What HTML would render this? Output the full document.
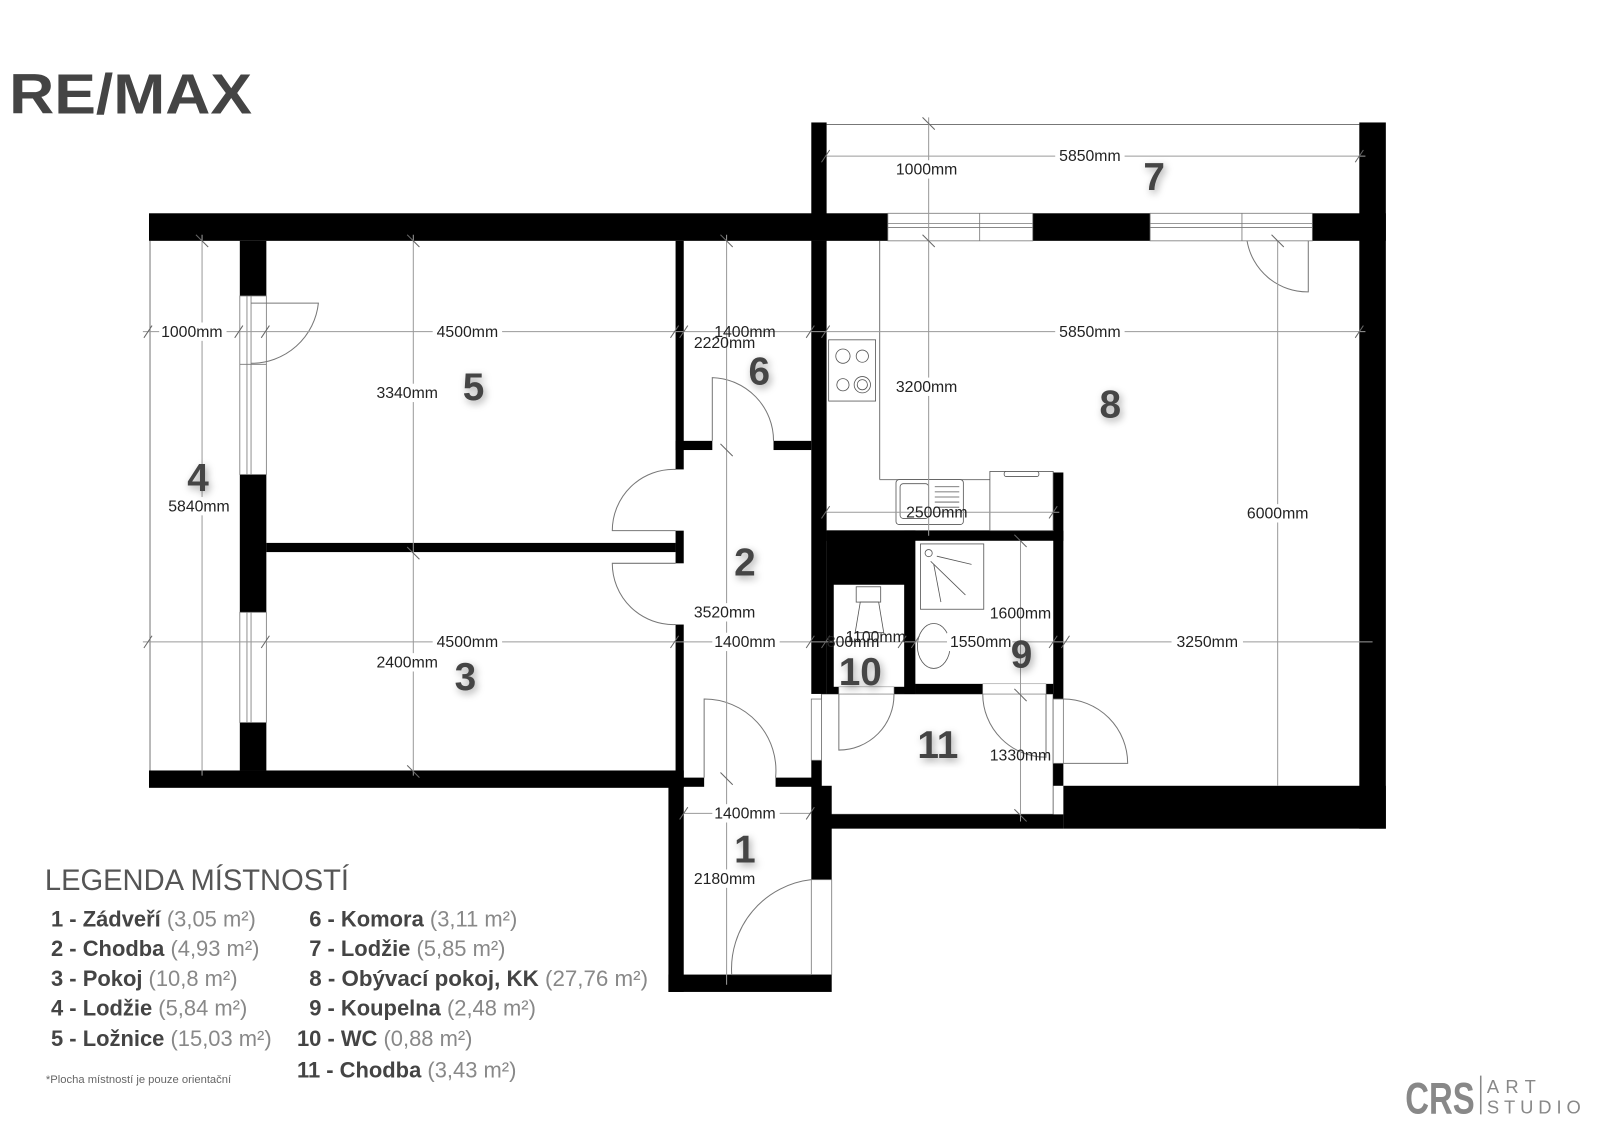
<!DOCTYPE html>
<html><head><meta charset="utf-8"><style>
html,body{margin:0;padding:0;background:#fff;}
svg{display:block;}
.d{font-family:"Liberation Sans",sans-serif;font-size:15.5px;fill:#222;}
.n{font-family:"Liberation Sans",sans-serif;font-size:38px;font-weight:bold;fill:#444;}
.dl{stroke:#9a9a9a;stroke-width:1;fill:none;}
.th{stroke:#777;stroke-width:1;fill:none;}
.lg{font-family:"Liberation Sans",sans-serif;font-size:21.5px;}
.lg .b{font-weight:bold;fill:#444;}
.lg .l{fill:#888;}
</style></head><body>
<svg width="1600" height="1130" viewBox="0 0 1600 1130" xmlns="http://www.w3.org/2000/svg">
<defs><filter id="sh" x="-50%" y="-50%" width="200%" height="200%"><feDropShadow dx="2" dy="3" stdDeviation="4" flood-color="#000" flood-opacity="0.35"/></filter></defs>
<g transform="scale(1.0205)">
<text x="9" y="111" font-family="Liberation Sans,sans-serif" font-weight="bold" font-size="55" fill="#444" textLength="238" lengthAdjust="spacingAndGlyphs">RE/MAX</text>

<g class="th">
<line x1="810" y1="122" x2="1332" y2="122"/>
<line x1="147" y1="236" x2="147" y2="756"/>
<rect x="805" y="680" width="227" height="118"/>
<line x1="862" y1="236" x2="862" y2="470"/>
<line x1="862" y1="470" x2="970" y2="470"/>
<line x1="810" y1="520" x2="1032" y2="520"/>
</g>

<g fill="#000">
<rect x="146" y="209" width="724" height="27"/>
<rect x="795" y="120" width="15" height="116"/>
<rect x="1012" y="209" width="115" height="27"/>
<rect x="1286" y="209" width="72" height="27"/>
<rect x="1332" y="120" width="26" height="692"/>
<rect x="146" y="755" width="524" height="17"/>
<rect x="235" y="236" width="26" height="54"/>
<rect x="235" y="465" width="26" height="135"/>
<rect x="235" y="708" width="26" height="47"/>
<rect x="261" y="532" width="401" height="9"/>
<rect x="662" y="236" width="8" height="224"/>
<rect x="662" y="520" width="8" height="32"/>
<rect x="662" y="612" width="8" height="150"/>
<rect x="795" y="236" width="15" height="444"/>
<rect x="662" y="432" width="36" height="9"/>
<rect x="758" y="432" width="37" height="9"/>
<rect x="655" y="762" width="35" height="9"/>
<rect x="760" y="762" width="45" height="9"/>
<rect x="655" y="762" width="15" height="210"/>
<rect x="655" y="955" width="160" height="17"/>
<rect x="795" y="770" width="20" height="92"/>
<rect x="795" y="745" width="10" height="25"/>
<rect x="810" y="520" width="232" height="10"/>
<rect x="810" y="520" width="87" height="160"/>
<rect x="886" y="520" width="11" height="160"/>
<rect x="1032" y="463" width="10" height="222"/>
<rect x="1032" y="748" width="10" height="22"/>
<rect x="897" y="670" width="135" height="10"/>
<rect x="805" y="798" width="237" height="14"/>
<rect x="1042" y="770" width="316" height="42"/>
</g>
<rect x="817" y="573" width="69" height="100" fill="#fff"/>
<rect x="897" y="530" width="135" height="140" fill="#fff"/>
<rect x="822" y="673" width="54" height="7" fill="#fff" stroke="#999" stroke-width="0.6"/>
<rect x="963" y="670" width="62" height="10" fill="#fff" stroke="#999" stroke-width="0.6"/>

<g fill="#fff" stroke="#777" stroke-width="0.8">
<rect x="870" y="209" width="142" height="27"/><line x1="870" y1="219" x2="1012" y2="219"/><line x1="870" y1="223" x2="1012" y2="223"/><line x1="960" y1="209" x2="960" y2="236"/>
<rect x="1127" y="209" width="159" height="27"/><line x1="1127" y1="219" x2="1286" y2="219"/><line x1="1127" y1="223" x2="1286" y2="223"/><line x1="1217" y1="209" x2="1217" y2="236"/>
<rect x="235" y="290" width="26" height="175"/><line x1="242" y1="290" x2="242" y2="465"/><line x1="246" y1="290" x2="246" y2="465"/><line x1="235" y1="357" x2="261" y2="357"/>
<rect x="235" y="600" width="26" height="108"/><line x1="242" y1="600" x2="242" y2="708"/><line x1="246" y1="600" x2="246" y2="708"/>
<rect x="795" y="862" width="20" height="93"/>
<rect x="795" y="685" width="10" height="60"/>
<rect x="1032" y="685" width="10" height="63"/>
</g>

<g class="th" stroke="#555">
<path d="M246 297 H312 A66 66 0 0 1 246 356"/>
<path d="M662 460 A60 60 0 0 0 600 520 H662"/>
<path d="M662 612 A60 60 0 0 1 600 552 H662"/>
<path d="M698 432 V370 A62 62 0 0 1 758 432"/>
<path d="M690 762 V685 A70 70 0 0 1 760 762"/>
<path d="M795 862 A88 88 0 0 0 717 955 H795"/>
<path d="M822 680 V735 A54 54 0 0 0 876 680"/>
<path d="M963 680 A62 62 0 0 0 1025 742 V680"/>
<path d="M1042 685 A63 63 0 0 1 1105 748 H1042"/>
<path d="M1222 236 A60 60 0 0 0 1282 286 V236"/>
</g>

<g fill="#fff" stroke="#555" stroke-width="0.8">
<rect x="812" y="333" width="46" height="60"/>
<circle cx="826" cy="349" r="7"/><circle cx="845" cy="349" r="6"/><circle cx="826" cy="377" r="6"/><circle cx="845" cy="377" r="8"/><circle cx="845" cy="377" r="5"/>
<rect x="878" y="470" width="66" height="44" rx="3"/><rect x="882" y="474" width="28" height="34" rx="3"/>
<rect x="970" y="462" width="62" height="58"/><rect x="984" y="462" width="34" height="5" rx="2"/>
<rect x="902" y="533" width="62" height="64"/><circle cx="910" cy="542" r="3.5"/>
<line x1="912" y1="550" x2="946" y2="583"/><line x1="915" y1="553" x2="922" y2="590"/><line x1="918" y1="545" x2="952" y2="553"/>
<ellipse cx="915" cy="633" rx="16" ry="22"/>
<rect x="839" y="575" width="24" height="15"/><path d="M843 590 L838 620 H866 L861 590 Z"/>
</g>
<g stroke="#555" stroke-width="0.8"><line x1="916" y1="477" x2="940" y2="477"/><line x1="916" y1="482" x2="940" y2="482"/><line x1="916" y1="487" x2="940" y2="487"/><line x1="916" y1="492" x2="940" y2="492"/><line x1="916" y1="497" x2="940" y2="497"/><line x1="916" y1="502" x2="940" y2="502"/></g>

<g class="dl">
<line x1="140" y1="325" x2="1338" y2="325"/>
<line x1="140" y1="629" x2="1345" y2="629"/>
<line x1="810" y1="153" x2="1338" y2="153"/>
<line x1="810" y1="502" x2="1038" y2="502"/>
<line x1="670" y1="797" x2="795" y2="797"/>
<line x1="198" y1="230" x2="198" y2="760"/>
<line x1="405" y1="230" x2="405" y2="760"/>
<line x1="712" y1="230" x2="712" y2="965"/>
<line x1="910" y1="115" x2="910" y2="525"/>
<line x1="1000" y1="530" x2="1000" y2="805"/>
<line x1="1252" y1="236" x2="1252" y2="770"/>
<g stroke="#666">
<path d="M141 331 l8 -12 M230 331 l8 -12 M256 331 l8 -12 M657 331 l8 -12 M666 331 l8 -12 M790 331 l8 -12 M805 331 l8 -12 M1328 331 l8 -12"/>
<path d="M141 635 l8 -12 M256 635 l8 -12 M657 635 l8 -12 M790 635 l8 -12 M805 635 l8 -12 M880 635 l8 -12 M893 635 l8 -12 M1028 635 l8 -12 M1040 635 l8 -12"/>
<path d="M805 159 l8 -12 M1328 159 l8 -12 M805 508 l8 -12 M1028 508 l8 -12 M666 803 l8 -12 M790 803 l8 -12"/>
<path d="M192 230 l12 12 M399 230 l12 12 M706 230 l12 12 M904 115 l12 12 M904 230 l12 12 M1246 230 l12 12 M706 435 l12 12 M706 757 l12 12 M994 524 l12 12 M994 675 l12 12 M994 793 l12 12 M399 750 l12 12 M399 536 l12 12"/>
</g>
</g>

<g class="d" text-anchor="middle">
<g fill="#fff" stroke="none">
<rect x="156" y="316" width="66" height="18"/><rect x="424" y="316" width="68" height="18"/><rect x="1034" y="316" width="68" height="18"/><rect x="1034" y="144" width="68" height="18"/>
<rect x="424" y="620" width="68" height="18"/><rect x="698" y="620" width="66" height="18"/><rect x="1148" y="620" width="70" height="18"/><rect x="928" y="620" width="64" height="18"/>
<rect x="162" y="487" width="68" height="18"/><rect x="366" y="376" width="68" height="18"/><rect x="366" y="640" width="68" height="18"/><rect x="1218" y="494" width="68" height="18"/>
<rect x="876" y="370" width="66" height="18"/><rect x="676" y="591" width="68" height="18"/><rect x="676" y="852" width="68" height="18"/><rect x="698" y="788" width="66" height="18"/><rect x="876" y="157" width="66" height="18"/>
</g>
<text x="188" y="330">1000mm</text>
<text x="458" y="330">4500mm</text>
<text x="730" y="330">1400mm</text>
<text x="710" y="341">2220mm</text>
<text x="1068" y="330">5850mm</text>
<text x="1068" y="158">5850mm</text>
<text x="908" y="171">1000mm</text>
<text x="908" y="384">3200mm</text>
<text x="195" y="501">5840mm</text>
<text x="399" y="390">3340mm</text>
<text x="399" y="654">2400mm</text>
<text x="458" y="634">4500mm</text>
<text x="730" y="634">1400mm</text>
<text x="710" y="605">3520mm</text>
<text x="730" y="802">1400mm</text>
<text x="710" y="866">2180mm</text>
<text x="918" y="507">2500mm</text>
<text x="1000" y="606">1600mm</text>
<text x="836" y="634">800mm</text>
<text x="858" y="629">1100mm</text>
<text x="961" y="634">1550mm</text>
<text x="1183" y="634">3250mm</text>
<text x="1000" y="745">1330mm</text>
<text x="1252" y="508">6000mm</text>
</g>

<g class="n" text-anchor="middle" filter="url(#sh)">
<text x="730" y="845">1</text>
<text x="730" y="564">2</text>
<text x="456" y="676">3</text>
<text x="194" y="481">4</text>
<text x="464" y="392">5</text>
<text x="744" y="377">6</text>
<text x="1131" y="186">7</text>
<text x="1088" y="409">8</text>
<text x="1001" y="654">9</text>
<text x="843" y="671">10</text>
<text x="919" y="743">11</text>
</g>

<text x="44" y="872" font-family="Liberation Sans,sans-serif" font-size="29" fill="#555" textLength="298" lengthAdjust="spacingAndGlyphs">LEGENDA MÍSTNOSTÍ</text>
<g class="lg">
<text x="50" y="908"><tspan class="b">1 - Zádveří</tspan><tspan class="l"> (3,05 m²)</tspan></text>
<text x="50" y="937"><tspan class="b">2 - Chodba</tspan><tspan class="l"> (4,93 m²)</tspan></text>
<text x="50" y="966"><tspan class="b">3 - Pokoj</tspan><tspan class="l"> (10,8 m²)</tspan></text>
<text x="50" y="995"><tspan class="b">4 - Lodžie</tspan><tspan class="l"> (5,84 m²)</tspan></text>
<text x="50" y="1025"><tspan class="b">5 - Ložnice</tspan><tspan class="l"> (15,03 m²)</tspan></text>
<text x="303" y="908"><tspan class="b">6 - Komora</tspan><tspan class="l"> (3,11 m²)</tspan></text>
<text x="303" y="937"><tspan class="b">7 - Lodžie</tspan><tspan class="l"> (5,85 m²)</tspan></text>
<text x="303" y="966" textLength="332" lengthAdjust="spacingAndGlyphs"><tspan class="b">8 - Obývací pokoj, KK</tspan><tspan class="l"> (27,76 m²)</tspan></text>
<text x="303" y="995"><tspan class="b">9 - Koupelna</tspan><tspan class="l"> (2,48 m²)</tspan></text>
<text x="291" y="1025"><tspan class="b">10 - WC</tspan><tspan class="l"> (0,88 m²)</tspan></text>
<text x="291" y="1056"><tspan class="b">11 - Chodba</tspan><tspan class="l"> (3,43 m²)</tspan></text>
</g>
<text x="45" y="1061" font-family="Liberation Sans,sans-serif" font-size="11" fill="#666">*Plocha místností je pouze orientační</text>

<text x="1377" y="1091" font-family="Liberation Sans,sans-serif" font-weight="bold" font-size="44" fill="#888" textLength="68" lengthAdjust="spacingAndGlyphs">CRS</text>
<line x1="1451" y1="1054" x2="1451" y2="1092" stroke="#888" stroke-width="1.5"/>
<text x="1457" y="1071" font-family="Liberation Sans,sans-serif" font-size="18" fill="#888" textLength="48" lengthAdjust="spacing">ART</text>
<text x="1457" y="1091" font-family="Liberation Sans,sans-serif" font-size="18" fill="#888" textLength="92" lengthAdjust="spacing">STUDIO</text>
</g>
</svg>
</body></html>
